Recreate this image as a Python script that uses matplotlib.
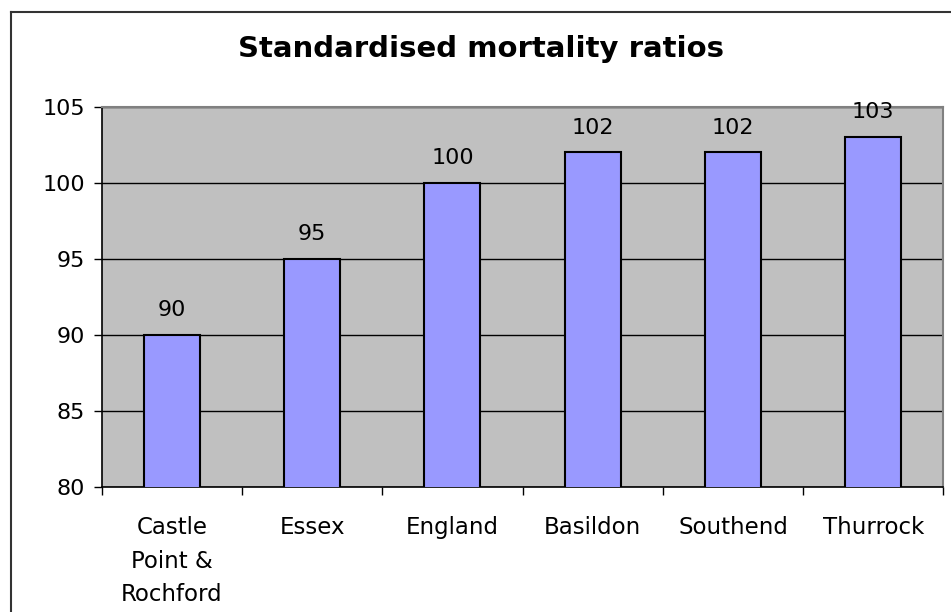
import matplotlib
matplotlib.use("Agg")
import matplotlib.pyplot as plt
import numpy as np
from matplotlib.lines import Line2D

areas = ["Castle\nPoint &\nRochford", "Essex", "England", "Basildon", "Southend", "Thurrock"]
smr = [90, 95, 100, 102, 102, 103]
y_ticks = [80, 85, 90, 95, 100, 105]

plt.rcParams["font.family"] = "DejaVu Sans"

fig = plt.figure(figsize=(9.51, 6.12), dpi=100)
ax = fig.add_axes([0.107, 0.2047, 0.885, 0.621])

x = np.arange(len(areas))
bars = ax.bar(x, smr, width=0.4, color="#9999FF", edgecolor="black",
              linewidth=1.5, zorder=3)

for xi, v in zip(x, smr):
    ax.annotate(f"{v}", (xi, v), xytext=(0, 13.5), textcoords="offset points",
                ha="center", va="baseline", fontsize=16, color="black")

ax.set_facecolor("#C0C0C0")
ax.set_xlim(-0.5, len(areas) - 0.5)
ax.set_ylim(80, 105)
ax.set_yticks(y_ticks)
ax.tick_params(axis="y", labelsize=16, length=6, width=1, direction="out", pad=6)

# category labels centred under bars, tick marks on the boundaries
ax.set_xticks(x)
ax.set_xticklabels(areas, fontsize=16.5, linespacing=1.6)
ax.tick_params(axis="x", which="major", length=0, pad=21)
ax.set_xticks(np.arange(len(areas) + 1) - 0.5, minor=True)
ax.tick_params(axis="x", which="minor", length=6, width=1, direction="out")

ax.yaxis.grid(True, color="black", linewidth=1)
ax.set_axisbelow(True)
for side in ("left", "bottom"):
    ax.spines[side].set_color("black")
    ax.spines[side].set_linewidth(1.2)
for side in ("top", "right"):
    ax.spines[side].set_color("#808080")
    ax.spines[side].set_linewidth(1.5)

fig.text(0.506, 1 - 57 / 612, "Standardised mortality ratios", ha="center",
         va="baseline", fontsize=21, fontweight="bold")

# chart-area frame (left and top edges visible)
x0, y0 = 10.5 / 951, 1 - 11.5 / 612
fig.add_artist(Line2D([x0, x0], [-0.01, y0], transform=fig.transFigure,
                      color="#333333", linewidth=1.5))
fig.add_artist(Line2D([x0, 1.01], [y0, y0], transform=fig.transFigure,
                      color="#333333", linewidth=1.5))

fig.savefig("out.png", dpi=100)
